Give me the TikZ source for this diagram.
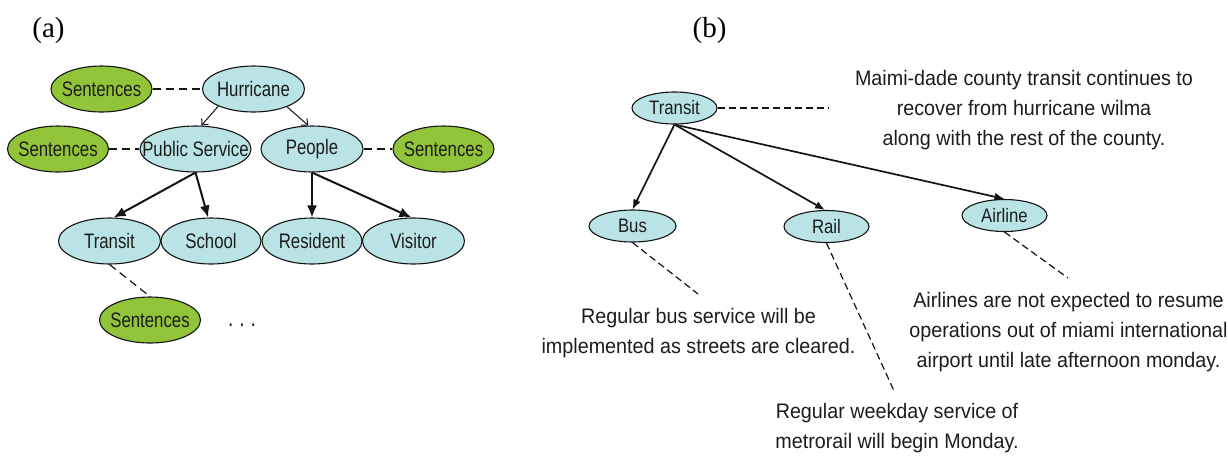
\documentclass[tikz,border=0pt]{standalone}
\usepackage{fontspec}
\setmainfont{Liberation Sans}
\newfontfamily\nodefonta{Liberation Sans}[FakeStretch=0.8]
\newfontfamily\nodefontb{Liberation Sans}[FakeStretch=0.86]
\newfontfamily\textfontb{Liberation Sans}[FakeStretch=0.94]
\newfontfamily\labelfont{Liberation Serif}
\usetikzlibrary{shapes.geometric,arrows.meta}
\definecolor{nodecyan}{RGB}{186,227,230}
\definecolor{nodegreen}{RGB}{146,196,58}
\definecolor{txt}{RGB}{28,28,28}
\definecolor{edgec}{RGB}{20,20,20}
\newcommand{\zw}[1]{\makebox[0pt]{#1}}
\tikzset{
  basenode/.style={ellipse, draw=edgec, line width=1.1pt, inner sep=0pt, text=txt},
  cyana/.style={basenode, fill=nodecyan, minimum width=102pt, minimum height=46pt,
     font=\nodefonta\fontsize{21pt}{21pt}\selectfont},
  greena/.style={basenode, fill=nodegreen, minimum width=101pt, minimum height=46pt,
     font=\nodefonta\fontsize{21pt}{21pt}\selectfont},
  cyanb/.style={basenode, fill=nodecyan, minimum width=85pt, minimum height=32pt,
     font=\nodefontb\fontsize{19.5pt}{19.5pt}\selectfont},
  sentb/.style={align=center, text=txt, inner sep=0pt,
     font=\textfontb\fontsize{21pt}{30pt}\selectfont},
  panellabel/.style={inner sep=0pt, text=black, font=\labelfont\fontsize{29pt}{29pt}\selectfont},
  thickarrow/.style={draw=edgec, line width=2pt, -{Latex[length=12pt,width=10pt]}},
  openarrow/.style={draw=edgec, line width=1pt, -{Straight Barb[length=5pt,width=9pt]}},
  midarrow/.style={draw=edgec, line width=1.7pt, -{Latex[length=10pt,width=8pt]}},
  dashline/.style={draw=edgec, line width=1.2pt, dash pattern=on 8pt off 5pt},
  dashlineb/.style={draw=edgec, line width=1.2pt, dash pattern=on 7pt off 4pt},
}
\begin{document}
\begin{tikzpicture}[x=1pt,y=-1pt]
\useasboundingbox (0,0) rectangle (1228,456);

% panel labels
\node[panellabel] (la) at (48.5,30.5) {(a)};
\node[panellabel] (lb) at (709.5,30.5) {(b)};

% ----- (a) -----
\node[cyana] (hur) at (253.5,89) {\zw{Hurricane}};
\node[greena] (s1) at (101.5,89) {\zw{Sentences}};
\node[cyana, minimum width=111pt] (ps) at (195.5,149) {\zw{Public Service}};
\node[greena] (s2) at (58,149) {\zw{Sentences}};
\node[cyana] (peo) at (312,149) {\zw{People}};
\node[greena] (s3) at (443.5,149) {\zw{Sentences}};
\node[cyana] (ta) at (109.5,241) {\zw{Transit}};
\node[cyana, minimum width=100pt] (sch) at (211,241) {\zw{School}};
\node[cyana, minimum width=100pt] (res) at (312,241) {\zw{Resident}};
\node[cyana] (vis) at (413.5,241) {\zw{Visitor}};
\node[greena] (s4) at (150,320) {\zw{Sentences}};
\node[text=txt, inner sep=0pt, anchor=base, font=\nodefonta\fontsize{24pt}{24pt}\selectfont] (dots) at (242,326) {.\hspace{6pt}.\hspace{6pt}.};

\draw[dashline] (s1) -- (hur);
\draw[dashline] (s2) -- (ps);
\draw[dashline] (peo) -- (s3);
\draw[dashline] (ta.south) -- (s4.north);

\draw[openarrow] (hur.206) -- (ps.76);
\draw[openarrow] (hur.332) -- (peo.99);

\draw[thickarrow] (ps.south) -- (ta.80);
\draw[thickarrow] (ps.south) -- (sch.97);
\draw[thickarrow] (peo.south) -- (res.north);
\draw[thickarrow] (peo.south) -- (vis.95);

% ----- (b) -----
\node[cyanb] (tb) at (674.5,108) {\zw{Transit}};
\node[cyanb, minimum width=87pt] (bus) at (632.5,226) {\zw{Bus}};
\node[cyanb] (rail) at (826.5,226.5) {\zw{Rail}};
\node[cyanb] (air) at (1004.5,215.5) {\zw{Airline}};

\node[sentb] (ttx) at (1024,110.5) {Maimi-dade county transit continues to\\recover from hurricane wilma\\along with the rest of the county.};
\node[sentb] (btx) at (698.5,333.5) {Regular bus service will be\\implemented as streets are cleared.};
\node[sentb] (rtx) at (897,428) {Regular weekday service of\\metrorail will begin Monday.};
\node[sentb] (atx) at (1068.5,332.5) {Airlines are not expected to resume\\operations out of miami international\\airport until late afternoon monday.};

\coordinate (tend) at (828,108);
\coordinate (bend) at (698,294);
\coordinate (rend) at (895,393);
\coordinate (aend) at (1068,278);

\draw[dashlineb] (tb.east) -- (tend);
\draw[dashlineb] (bus.south) -- (bend);
\draw[dashlineb] (rail.south) -- (rend);
\draw[dashlineb] (air.south) -- (aend);

\draw[midarrow] (tb.south) -- (bus.north);
\draw[midarrow] (tb.south) -- (rail.95);
\draw[midarrow] (tb.south) -- (air.north);
\end{tikzpicture}
\end{document}
